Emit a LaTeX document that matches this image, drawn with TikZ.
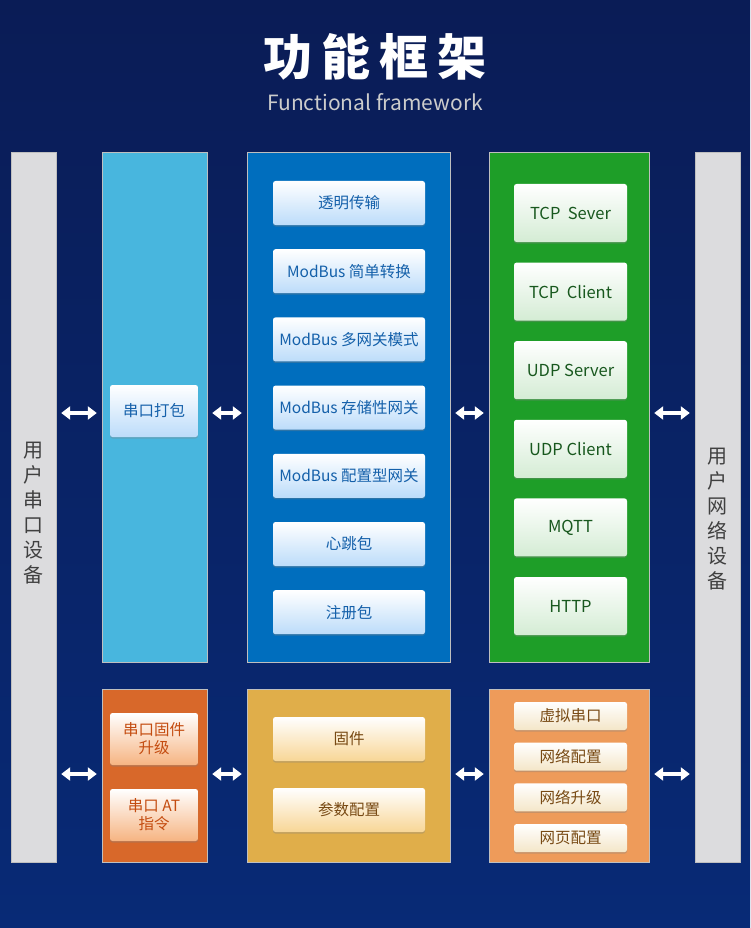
\documentclass[tikz,border=0pt]{standalone}
\usepackage{fontspec}
\setmainfont{Noto Sans CJK SC}
\usetikzlibrary{positioning, arrows.meta, calc, shadows}
\definecolor{bgtop}{RGB}{10,28,86}
\definecolor{bgbot}{RGB}{8,42,118}
\definecolor{greyp}{RGB}{220,220,222}
\definecolor{skyp}{RGB}{72,182,222}
\definecolor{bluep}{RGB}{0,110,190}
\definecolor{greenp}{RGB}{30,158,40}
\definecolor{rustp}{RGB}{216,104,42}
\definecolor{goldp}{RGB}{224,174,74}
\definecolor{peachp}{RGB}{238,155,90}
\definecolor{bluetxt}{RGB}{20,96,170}
\definecolor{greentxt}{RGB}{24,88,30}
\definecolor{rusttxt}{RGB}{196,76,16}
\definecolor{browntxt}{RGB}{120,74,20}
\definecolor{bluetint}{RGB}{188,220,250}
\definecolor{greentint}{RGB}{212,236,212}
\definecolor{rusttint}{RGB}{246,180,130}
\definecolor{goldtint}{RGB}{248,214,150}
\definecolor{peachtint}{RGB}{244,230,200}

\begin{document}
\begin{tikzpicture}[x=1pt, y=1pt,
    panel/.style={inner sep=0pt, draw=black!25, line width=0.4pt},
    card/.style={rounded corners=2.5pt, inner sep=0pt, align=center,
        drop shadow={shadow xshift=0pt, shadow yshift=-1.5pt, opacity=0.35}},
    bluebox/.style={card, top color=white, bottom color=bluetint, text=bluetxt,
        minimum width=152, minimum height=44, font=\fontsize{15.5}{18}\selectfont},
    packbox/.style={card, top color=white, bottom color=bluetint, text=bluetxt,
        minimum width=88, minimum height=52, font=\fontsize{15.5}{18}\selectfont},
    greenbox/.style={card, top color=white, bottom color=greentint, text=greentxt,
        minimum width=113, minimum height=58, font=\fontsize{16.5}{18}\selectfont},
    rustbox/.style={card, top color=white, bottom color=rusttint, text=rusttxt,
        minimum width=88, minimum height=52, font=\fontsize{15.5}{18}\selectfont},
    goldbox/.style={card, top color=white, bottom color=goldtint, text=browntxt,
        minimum width=152, minimum height=44, font=\fontsize{15.5}{18}\selectfont},
    peachbox/.style={card, top color=white, bottom color=peachtint, text=browntxt,
        minimum width=113, minimum height=28, font=\fontsize{15.5}{18}\selectfont},
    vtext/.style={align=center, text=black!75, font=\fontsize{20}{25}\selectfont},
    dbl/.style={{Triangle[width=13pt,length=9pt]}-{Triangle[width=13pt,length=9pt]},
        line width=4pt, white, shorten <=5pt, shorten >=5pt}]

    % background
    \fill[top color=bgtop, bottom color=bgbot] (0,0) rectangle (750,-928);
    \useasboundingbox (0,0) rectangle (750,-928);

    % title
    \node[text=white, font=\fontsize{49}{50}\selectfont\bfseries] (title) at (375,-57)
        {功\hspace{9pt}能\hspace{9pt}框\hspace{9pt}架};
    \node[text=black!20, font=\fontsize{21}{22}\selectfont] (subtitle) at (375,-102)
        {Functional framework};

    % side panels
    \node[panel, fill=greyp, minimum width=45, minimum height=710] (usrser) at (33.5,-507) {};
    \node[panel, fill=greyp, minimum width=45, minimum height=710] (usrnet) at (717.5,-507) {};
    \node[vtext] at (33.5,-513) {用\\户\\串\\口\\设\\备};
    \node[vtext] at (717.5,-519) {用\\户\\网\\络\\设\\备};

    % upper panels
    \node[panel, fill=skyp, minimum width=105, minimum height=510] (serpack) at (154.5,-407) {};
    \node[panel, fill=bluep, minimum width=203, minimum height=510] (modes) at (348.5,-407) {};
    \node[panel, fill=greenp, minimum width=160, minimum height=510] (proto) at (569,-407) {};

    % lower panels
    \node[panel, fill=rustp, minimum width=105, minimum height=173] (serupd) at (154.5,-775.5) {};
    \node[panel, fill=goldp, minimum width=203, minimum height=173] (firm) at (348.5,-775.5) {};
    \node[panel, fill=peachp, minimum width=160, minimum height=173] (webcfg) at (569,-775.5) {};

    % cards
    \node[packbox] (pack) at (154,-411) {串口打包};
    \foreach \t [count=\i] in {透明传输, ModBus 简单转换, ModBus 多网关模式, ModBus 存储性网关,
        ModBus 配置型网关, 心跳包, 注册包}
        \node[bluebox] (mode\i) at (349,{-203-68.2*(\i-1)}) {\t};
    \foreach \t [count=\i] in {TCP\ \ Sever, TCP\ \ Client, UDP Server, UDP Client, MQTT, HTTP}
        \node[greenbox] (proto\i) at (570.5,{-213-78.6*(\i-1)}) {\t};
    \node[rustbox] (upd1) at (154,-739) {串口固件\\升级};
    \node[rustbox] (upd2) at (154,-815) {串口 AT\\指令};
    \node[goldbox] (firm1) at (349,-739) {固件};
    \node[goldbox] (firm2) at (349,-810) {参数配置};
    \foreach \t [count=\i] in {虚拟串口, 网络配置, 网络升级, 网页配置}
        \node[peachbox] (cfg\i) at (570.5,{-716-40.7*(\i-1)}) {\t};

    % connectors
    \coordinate (toprow) at (0,-413);
    \coordinate (botrow) at (0,-774);
    \foreach \a/\b in {usrser/serpack, serpack/modes, modes/proto, proto/usrnet} {
        \draw[dbl] (\a.east |- toprow) -- (\b.west |- toprow);
    }
    \foreach \a/\b in {usrser/serupd, serupd/firm, firm/webcfg, webcfg/usrnet} {
        \draw[dbl] (\a.east |- botrow) -- (\b.west |- botrow);
    }
\end{tikzpicture}
\end{document}
